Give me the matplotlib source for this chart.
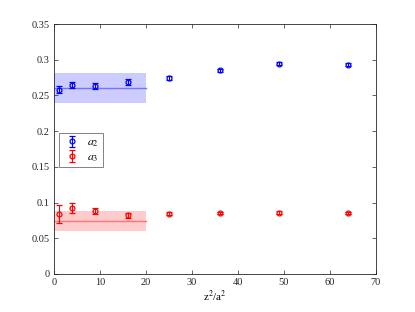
import matplotlib
matplotlib.use("Agg")
import matplotlib.pyplot as plt
import numpy as np

plt.rcParams["font.family"] = "Liberation Serif"
plt.rcParams["mathtext.fontset"] = "stix"

z2 = np.array([1, 4, 9, 16, 25, 36, 49, 64])

a2 = np.array([0.258, 0.2645, 0.2635, 0.2685, 0.274, 0.2855, 0.2945, 0.293])
a2_err = np.array([0.005, 0.004, 0.004, 0.004, 0.003, 0.002, 0.002, 0.002])
a3 = np.array([0.0836, 0.092, 0.0878, 0.082, 0.0845, 0.0855, 0.086, 0.0855])
a3_err = np.array([0.0126, 0.007, 0.004, 0.004, 0.002, 0.002, 0.002, 0.002])

fit_range = [0, 20]
a2_fit, a2_lo, a2_hi = 0.2605, 0.240, 0.281
a3_fit, a3_lo, a3_hi = 0.0742, 0.0607, 0.0878

fig = plt.figure(figsize=(4.15, 3.12), dpi=100)
ax = fig.add_axes([0.130, 0.1218, 0.776, 0.8012])

ax.fill_between(fit_range, a2_lo, a2_hi, color=(0.8, 0.8, 1.0), lw=0)
ax.plot(fit_range, [a2_fit, a2_fit], color=(0.45, 0.45, 1.0), lw=1)
ax.fill_between(fit_range, a3_lo, a3_hi, color=(1.0, 0.8, 0.8), lw=0)
ax.plot(fit_range, [a3_fit, a3_fit], color=(1.0, 0.45, 0.45), lw=1)

ax.errorbar(z2, a2, yerr=a2_err, fmt="o", color="blue", mfc="none",
            ms=3.5, mew=0.9, elinewidth=0.8, capsize=2, label=r"$a_2$")
ax.errorbar(z2, a3, yerr=a3_err, fmt="o", color="red", mfc="none",
            ms=3.5, mew=0.9, elinewidth=0.8, capsize=2, label=r"$a_3$")

ax.set_xlim(0, 70)
ax.set_ylim(0, 0.35)
ax.set_xticks(np.arange(0, 71, 10))
ax.set_yticks(np.arange(0, 0.351, 0.05))
ax.set_yticklabels(["0", "0.05", "0.1", "0.15", "0.2", "0.25", "0.3", "0.35"])
ax.tick_params(direction="in", top=True, right=True, labelsize=7.5,
               length=3, width=0.5, colors=(0.15, 0.15, 0.15), pad=3)
for s in ax.spines.values():
    s.set_linewidth(0.6)
    s.set_color((0.15, 0.15, 0.15))
ax.set_xlabel(r"z$^2$/a$^2$", fontsize=8, labelpad=1)

leg = ax.legend(loc="upper left", bbox_to_anchor=(0.016, 0.564), fontsize=8.5,
                frameon=True, fancybox=False, edgecolor=(0.15, 0.15, 0.15),
                handlelength=1.6, borderpad=0.3, labelspacing=0.2,
                handletextpad=0.5, borderaxespad=0)
leg.get_frame().set_linewidth(0.5)

fig.savefig("out.png", dpi=100)
